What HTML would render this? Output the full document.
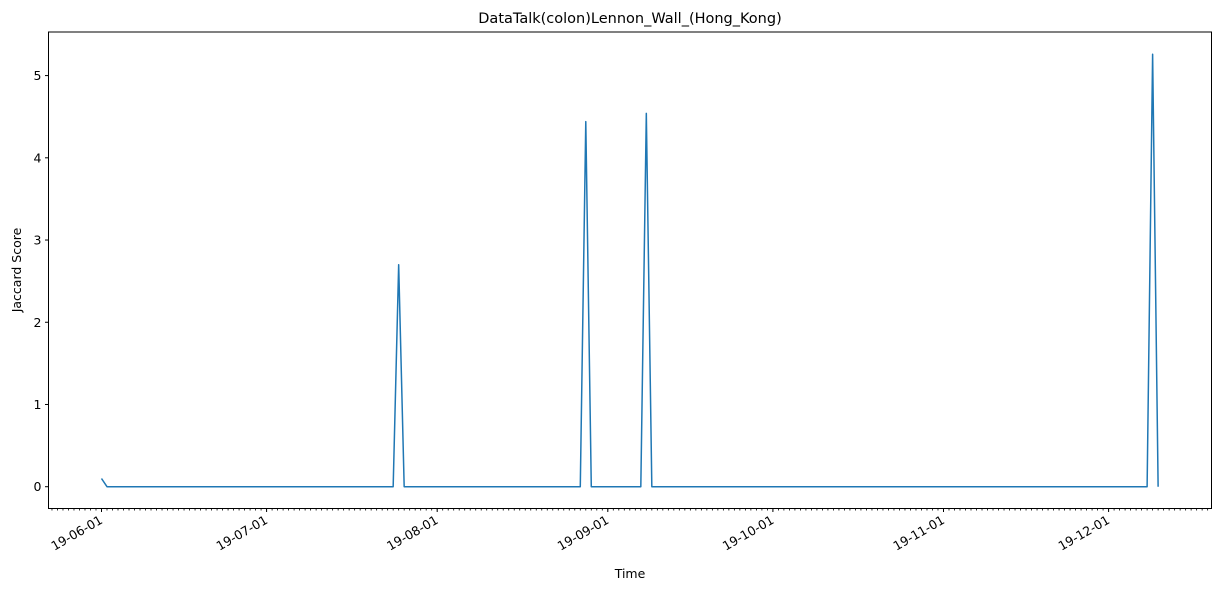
<!DOCTYPE html>
<html><head><meta charset="utf-8"><style>
body{margin:0;background:#fff}
svg{display:block;font-family:"DejaVu Sans","Liberation Sans",sans-serif}
</style></head><body>
<svg id="chart" width="1220" height="591">
<text x="630" y="23" text-anchor="middle" font-size="14.5">DataTalk(colon)Lennon_Wall_(Hong_Kong)</text>
<text x="630" y="578" text-anchor="middle" font-size="12.5">Time</text>
<text transform="translate(21,270) rotate(-90)" text-anchor="middle" font-size="12.5">Jaccard Score</text>
<g id="axes"></g>
</svg>
<script>
const dayOffsets=[0,1,53,54,55,87,88,89,98,99,100,190,191,192];
const scores=[0.1,0,0,2.7,0,0,4.44,0,0,4.54,0,0,5.26,0];
const yTicks=[0,1,2,3,4,5];
const monthLabels=["19-06-01","19-07-01","19-08-01","19-09-01","19-10-01","19-11-01","19-12-01"];
const monthDays=[0,30,61,92,122,153,183];
const L=48.5,R=1211.5,T=32,B=508.5;
const dMin=-9.63,dMax=201.7,yMin=-0.265,yMax=5.53;
const x=d=>L+(d-dMin)/(dMax-dMin)*(R-L);
const y=v=>B-(v-yMin)/(yMax-yMin)*(B-T);
const ns="http://www.w3.org/2000/svg",g=document.getElementById('axes');
function mk(t,a){const e=document.createElementNS(ns,t);for(const k in a)e.setAttribute(k,a[k]);g.appendChild(e);return e;}
let f=mk('rect',{x:L,y:T,width:R-L,height:B-T,fill:'none',stroke:'#000','stroke-width':1});


yTicks.forEach(v=>{
 let t=mk('line',{x1:L-3.5,x2:L,y1:y(v),y2:y(v),stroke:'#000'});
 
 
 let l=mk('text',{x:L-7,y:y(v)+4.5,'text-anchor':'end','font-size':12.5});
 l.textContent=v;
 
 
});
for(let d=Math.ceil(dMin);d<=dMax;d++){
 let t=mk('line',{x1:x(d),x2:x(d),y1:B,y2:B+2,stroke:'#000','stroke-width':0.8});
 
 
}
monthDays.forEach((d,i)=>{
 let t=mk('line',{x1:x(d),x2:x(d),y1:B,y2:B+3.5,stroke:'#000'});
 
 
 let l=mk('text',{transform:`translate(${x(d)+2},${B+14}) rotate(-30)`,'text-anchor':'end','font-size':12.5});
 l.textContent=monthLabels[i];
 
 
});
let p=mk('polyline',{points:dayOffsets.map((d,i)=>x(d)+','+y(scores[i])).join(' '),fill:'none',stroke:'#1f77b4','stroke-width':1.5,'stroke-linejoin':'round'});


</script>
</body></html>
